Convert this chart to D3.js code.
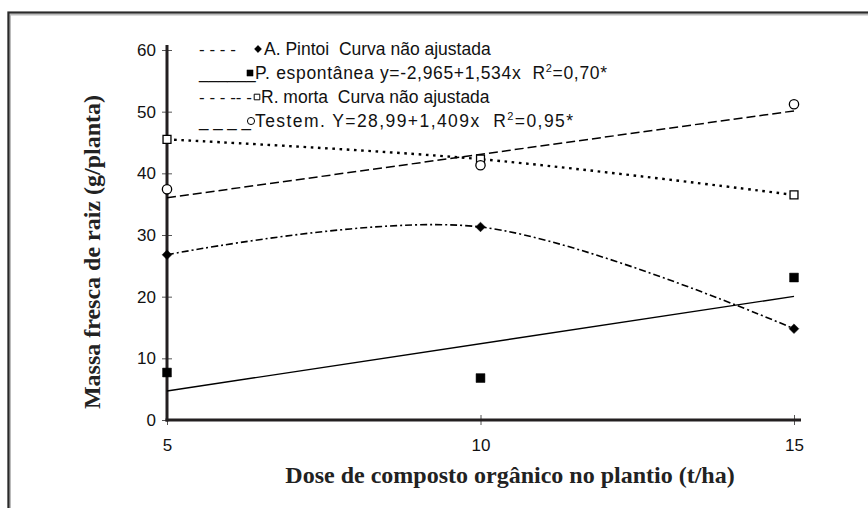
<!DOCTYPE html>
<html>
<head>
<meta charset="utf-8">
<script src="https://cdn.jsdelivr.net/npm/d3@7"></script>
<style>
  body { margin: 0; background: #fff; }
</style>
</head>
<body>
<div id="chart"></div>
<script>
// data
const doses = [5, 10, 15];
const pintoi = [26.8, 31.3, 14.8];
const espontanea = [7.7, 6.8, 23.1];
const morta = [45.5, 42.3, 36.5];
const testem = [37.4, 41.3, 51.2];
// fitted lines (a + b*x)
const espFit = [-2.965, 1.534];
const testemFit = [28.99, 1.409];
const yTicks = [0, 10, 20, 30, 40, 50, 60];
const xTicks = [5, 10, 15];

const sans = "Liberation Sans, Arial, sans-serif";
const serif = "Liberation Serif, Times New Roman, serif";

const width = 868, height = 508;
const svg = d3.select("#chart").append("svg")
  .attr("width", width)
  .attr("height", height);

svg.append("rect").attr("width", width).attr("height", height).attr("fill", "#fff");

// outer frame (runs off the right and bottom edges)
svg.append("path")
  .attr("d", `M9,${height + 5} V13.5 H${width + 5}`)
  .attr("fill", "none").attr("stroke", "#bbb").attr("stroke-width", 4);
svg.append("path")
  .attr("d", `M8.5,${height + 5} V12.5 H${width + 5}`)
  .attr("fill", "none").attr("stroke", "#2a2a2a").attr("stroke-width", 2);

const x = d3.scaleLinear().domain([5, 15]).range([167, 794]);
const y = d3.scaleLinear().domain([0, 60]).range([420, 50]);

// axes
const axisCol = "#231f20";
const yAxis = svg.append("g").attr("transform", `translate(${x(5)},0)`)
  .call(d3.axisLeft(y).tickValues(yTicks).tickSize(0).tickPadding(11));
yAxis.select(".domain").remove();
yAxis.selectAll("text").attr("font-size", 17).attr("fill", "#111")
  .attr("font-family", sans);
yAxis.selectAll(".tick").append("line")
  .attr("x1", -5).attr("x2", 5).attr("stroke", "#555").attr("stroke-width", 1);

const xAxis = svg.append("g").attr("transform", `translate(0,${y(0)})`)
  .call(d3.axisBottom(x).tickValues(xTicks).tickSize(0).tickPadding(19));
xAxis.select(".domain").remove();
xAxis.selectAll("text").attr("font-size", 17).attr("fill", "#111")
  .attr("font-family", sans);
xAxis.selectAll(".tick").append("line")
  .attr("y1", -5).attr("y2", 5).attr("stroke", "#555").attr("stroke-width", 1);

svg.append("line")
  .attr("x1", x(5)).attr("x2", x(5)).attr("y1", y(0) + 1.5).attr("y2", y(60) - 5)
  .attr("stroke", axisCol).attr("stroke-width", 3);
svg.append("line")
  .attr("x1", x(5) - 1.5).attr("x2", x(15) + 7).attr("y1", y(0)).attr("y2", y(0))
  .attr("stroke", axisCol).attr("stroke-width", 3);

// series lines
const smooth = d3.line()
  .x((d, i) => x(doses[i]))
  .y(d => y(d))
  .curve(d3.curveCardinal.tension(0));

svg.append("path").datum(pintoi)
  .attr("d", smooth).attr("fill", "none").attr("stroke", "#000")
  .attr("stroke-width", 1.6).attr("stroke-dasharray", "7,3,2,3");

svg.append("path").datum(morta)
  .attr("d", smooth).attr("fill", "none").attr("stroke", "#000")
  .attr("stroke-width", 2.4).attr("stroke-dasharray", "2.6,4.6");

const fitLine = coef => d3.line()([[x(5), y(coef[0] + coef[1] * 5)], [x(15), y(coef[0] + coef[1] * 15)]]);

svg.append("path").attr("d", fitLine(espFit))
  .attr("fill", "none").attr("stroke", "#000").attr("stroke-width", 1.4);
svg.append("path").attr("d", fitLine(testemFit))
  .attr("fill", "none").attr("stroke", "#000").attr("stroke-width", 1.5)
  .attr("stroke-dasharray", "9,4");

// markers
function drawMarkers(values, type, size, filled) {
  svg.append("g").selectAll("path")
    .data(values)
    .join("path")
    .attr("transform", (d, i) => `translate(${x(doses[i])},${y(d)})`)
    .attr("d", d3.symbol().type(type).size(size))
    .attr("fill", filled ? "#000" : "#fff")
    .attr("stroke", "#000")
    .attr("stroke-width", filled ? 0.5 : 1.3);
}
drawMarkers(pintoi, d3.symbolDiamond2, 60, true);
drawMarkers(espontanea, d3.symbolSquare2, 100, true);
drawMarkers(morta, d3.symbolSquare2, 80, false);
drawMarkers(testem, d3.symbolCircle, 68, false);

// legend (typed-out line samples, as in the original)
const legendRows = [
  { sample: "- - - -", mx: 258, lx: 264, type: d3.symbolDiamond2, size: 34, filled: true,
    parts: ["A. Pintoi  Curva não ajustada"], len: null },
  { sample: "______", mx: 250, lx: 255, type: d3.symbolSquare2, size: 50, filled: true,
    parts: ["P. espontânea y=-2,965+1,534x  R", "2", "=0,70*"], len: 352 },
  { sample: "- - - -- -", mx: 257, lx: 261, type: d3.symbolSquare2, size: 40, filled: false,
    parts: ["R. morta  Curva não ajustada"], len: null },
  { sample: "_ _ _ _", mx: 251, lx: 255, type: d3.symbolCircle, size: 40, filled: false,
    parts: ["Testem. Y=28,99+1,409x  R", "2", "=0,95*"], len: 318 }
];
const legendY = d3.scalePoint().domain(d3.range(legendRows.length)).range([49, 121]);

legendRows.forEach((r, i) => {
  const cy = legendY(i);
  svg.append("text").attr("x", 199).attr("y", cy + 6)
    .attr("font-family", sans).style("white-space", "pre")
    .attr("font-size", 17).attr("fill", "#111").text(r.sample);
  svg.append("path")
    .attr("transform", `translate(${r.mx},${cy})`)
    .attr("d", d3.symbol().type(r.type).size(r.size))
    .attr("fill", r.filled ? "#000" : "#fff")
    .attr("stroke", "#000").attr("stroke-width", r.filled ? 0.3 : 1);
  const t = svg.append("text").attr("x", r.lx).attr("y", cy + 6)
    .attr("font-family", sans).style("white-space", "pre")
    .attr("font-size", 17.5).attr("fill", "#111");
  if (r.len) t.attr("textLength", r.len).attr("lengthAdjust", "spacing");
  r.parts.forEach((p, j) => {
    const ts = t.append("tspan").text(p);
    if (j === 1) ts.attr("font-size", 11).attr("dy", -7);
    if (j === 2) ts.attr("dy", 7);
  });
});

// axis titles
svg.append("text")
  .attr("x", 510).attr("y", 483)
  .attr("text-anchor", "middle")
  .attr("font-family", serif)
  .attr("font-weight", "bold").attr("font-size", 24).attr("fill", "#222")
  .text("Dose de composto orgânico no plantio (t/ha)");

svg.append("text")
  .attr("transform", "translate(100,252) rotate(-90)")
  .attr("text-anchor", "middle")
  .attr("font-family", serif)
  .attr("font-weight", "bold").attr("font-size", 24).attr("fill", "#222")
  .text("Massa fresca de raiz (g/planta)");
</script>
</body>
</html>
